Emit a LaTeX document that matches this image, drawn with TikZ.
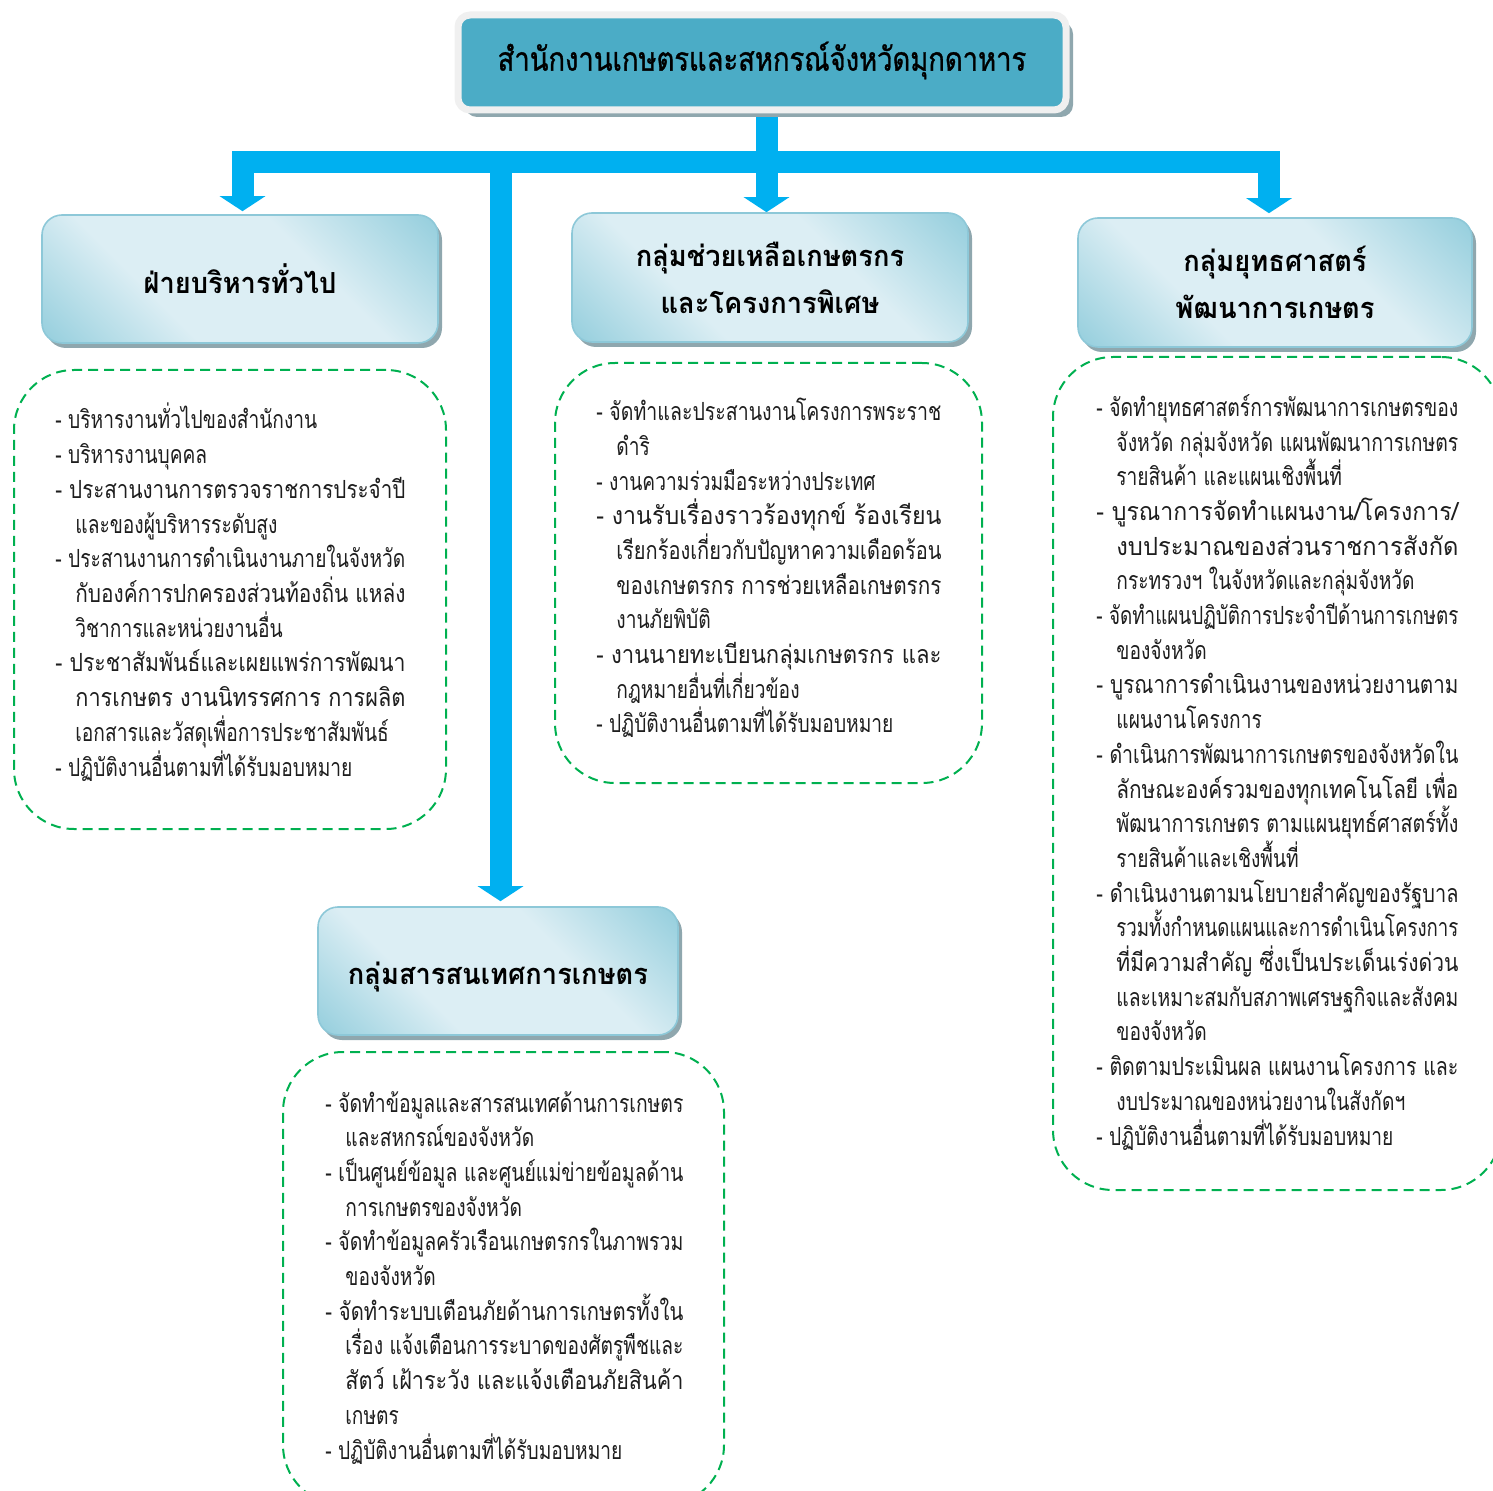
\documentclass[tikz,border=0pt]{standalone}
\usepackage{fontspec}
\usepackage{graphicx}
\newfontfamily\thaibody[Script=Thai,FakeStretch=0.767]{Loma}
\newfontfamily\thaihead[Script=Thai,FakeStretch=0.94]{Loma}
\newfontfamily\thaititle[Script=Thai,FakeStretch=0.83,FakeBold=1]{Loma}
\usetikzlibrary{arrows.meta,shadows,backgrounds}
\definecolor{connc}{HTML}{00B0F0}
\definecolor{topfill}{HTML}{4BACC6}
\definecolor{topframe}{HTML}{F0F0F0}
\definecolor{dashc}{HTML}{00B050}
\definecolor{boxdark}{HTML}{92CDDC}
\definecolor{boxlight}{HTML}{DCEEF4}
\definecolor{boxline}{HTML}{8DC8D8}
\definecolor{shadowc}{HTML}{8FA7AE}
\definecolor{bodytext}{HTML}{1E1E1E}
\pgfdeclareverticalshading{grpshade}{100bp}{color(0bp)=(boxdark); color(14bp)=(boxdark); color(36bp)=(boxlight); color(62bp)=(boxlight); color(86bp)=(boxdark); color(100bp)=(boxdark)}
\newcommand{\ind}{\hspace*{10pt}}
\newcommand{\fl}[2]{\resizebox{#1pt}{\height}{#2}}
\begin{document}
\begin{tikzpicture}[x=0.5pt,y=-0.5pt,
  conn/.style={draw=connc, line width=11pt, line join=miter, -{Triangle[width=22.5pt,length=7.5pt]}},
  topbox/.style={fill=topfill, draw=topframe, line width=3.5pt, rounded corners=6pt,
    drop shadow={shadow xshift=3.5pt, shadow yshift=-3.5pt, fill=shadowc, opacity=1},
    minimum width=304pt, minimum height=47.5pt, inner sep=0pt,
    font={\thaititle\fontsize{16.5}{20}\selectfont}},
  grpbox/.style={draw=boxline, line width=0.8pt, rounded corners=10pt,
    shading=grpshade, shading angle=-45,
    drop shadow={shadow xshift=2pt, shadow yshift=-2.5pt, fill=shadowc, opacity=1},
    align=center, inner sep=0pt,
    font={\thaihead\bfseries\fontsize{14.5}{23.5}\selectfont}},
  dashbox/.style={draw=dashc, dash pattern=on 5pt off 3pt, line width=1pt, rounded corners=30pt, inner sep=0pt},
  bodytxt/.style={anchor=base west, align=left, inner sep=0pt, text=bodytext,
    font={\thaibody\fontsize{12.5}{17.35}\selectfont\lineskiplimit=-30pt}}
]
\useasboundingbox (0,0) rectangle (1493,1491);

% top box
\node[topbox] (top) at (762,62.5) {\raisebox{1pt}[\height][\depth]{สำนักงานเกษตรและสหกรณ์จังหวัดมุกดาหาร}};

% group boxes
\node[grpbox, minimum width=198pt, minimum height=64pt] (b1) at (240,279) {ฝ่ายบริหารทั่วไป};
\node[grpbox, minimum width=198pt, minimum height=64.5pt] (b2) at (770,277.5) {กลุ่มช่วยเหลือเกษตรกร\\และโครงการพิเศษ};
\node[grpbox, minimum width=197pt, minimum height=64.5pt] (b3) at (1275,282.5) {กลุ่มยุทธศาสตร์\\พัฒนาการเกษตร};
\node[grpbox, minimum width=180pt, minimum height=64pt] (b4) at (498,971) {\raisebox{-3pt}[\height][\depth]{กลุ่มสารสนเทศการเกษตร}};

% dashed boxes
\node[dashbox, minimum width=216pt, minimum height=229.5pt] (d1) at (230,599.5) {};
\node[dashbox, minimum width=213.5pt, minimum height=210pt] (d2) at (768.5,573) {};
\node[dashbox, minimum width=224pt, minimum height=416.5pt] (d3) at (1277,773.5) {};
\node[dashbox, minimum width=220.5pt, minimum height=226.5pt] (d4) at (503.5,1278.5) {};

% texts (anchor = baseline of last line)
\node[bodytxt] (t1) at (55,776) {- บริหารงานทั่วไปของสำนักงาน\\
- บริหารงานบุคคล\\
\fl{175}{- ประสานงานการตรวจราชการประจำปี}\\
\ind และของผู้บริหารระดับสูง\\
\fl{175}{- ประสานงานการดำเนินงานภายในจังหวัด}\\
\ind\fl{165}{กับองค์การปกครองส่วนท้องถิ่น แหล่ง}\\
\ind วิชาการและหน่วยงานอื่น\\
\fl{175}{- ประชาสัมพันธ์และเผยแพร่การพัฒนา}\\
\ind\fl{165}{การเกษตร งานนิทรรศการ การผลิต}\\
\ind เอกสารและวัสดุเพื่อการประชาสัมพันธ์\\
- ปฏิบัติงานอื่นตามที่ได้รับมอบหมาย};

\node[bodytxt] (t2) at (596,733) {\fl{172.5}{- จัดทำและประสานงานโครงการพระราช}\\
\ind ดำริ\\
- งานความร่วมมือระหว่างประเทศ\\
\fl{172.5}{- งานรับเรื่องราวร้องทุกข์ ร้องเรียน}\\
\ind\fl{162.5}{เรียกร้องเกี่ยวกับปัญหาความเดือดร้อน}\\
\ind\fl{162.5}{ของเกษตรกร การช่วยเหลือเกษตรกร}\\
\ind งานภัยพิบัติ\\
\fl{172.5}{- งานนายทะเบียนกลุ่มเกษตรกร และ}\\
\ind กฎหมายอื่นที่เกี่ยวข้อง\\
- ปฏิบัติงานอื่นตามที่ได้รับมอบหมาย};

\node[bodytxt] (t3) at (1096,1145) {\fl{181}{- จัดทำยุทธศาสตร์การพัฒนาการเกษตรของ}\\
\ind\fl{171}{จังหวัด กลุ่มจังหวัด แผนพัฒนาการเกษตร}\\
\ind รายสินค้า และแผนเชิงพื้นที่\\
\fl{181}{- บูรณาการจัดทำแผนงาน/โครงการ/}\\
\ind\fl{171}{งบประมาณของส่วนราชการสังกัด}\\
\ind กระทรวงฯ ในจังหวัดและกลุ่มจังหวัด\\
\fl{181}{- จัดทำแผนปฏิบัติการประจำปีด้านการเกษตร}\\
\ind ของจังหวัด\\
\fl{181}{- บูรณาการดำเนินงานของหน่วยงานตาม}\\
\ind แผนงานโครงการ\\
\fl{181}{- ดำเนินการพัฒนาการเกษตรของจังหวัดใน}\\
\ind\fl{171}{ลักษณะองค์รวมของทุกเทคโนโลยี เพื่อ}\\
\ind\fl{171}{พัฒนาการเกษตร ตามแผนยุทธ์ศาสตร์ทั้ง}\\
\ind รายสินค้าและเชิงพื้นที่\\
\fl{181}{- ดำเนินงานตามนโยบายสำคัญของรัฐบาล}\\
\ind\fl{171}{รวมทั้งกำหนดแผนและการดำเนินโครงการ}\\
\ind\fl{171}{ที่มีความสำคัญ ซึ่งเป็นประเด็นเร่งด่วน}\\
\ind\fl{171}{และเหมาะสมกับสภาพเศรษฐกิจและสังคม}\\
\ind ของจังหวัด\\
\fl{181}{- ติดตามประเมินผล แผนงานโครงการ และ}\\
\ind งบประมาณของหน่วยงานในสังกัดฯ\\
- ปฏิบัติงานอื่นตามที่ได้รับมอบหมาย};

\node[bodytxt] (t4) at (325,1459) {\fl{179}{- จัดทำข้อมูลและสารสนเทศด้านการเกษตร}\\
\ind และสหกรณ์ของจังหวัด\\
\fl{179}{- เป็นศูนย์ข้อมูล และศูนย์แม่ข่ายข้อมูลด้าน}\\
\ind การเกษตรของจังหวัด\\
\fl{179}{- จัดทำข้อมูลครัวเรือนเกษตรกรในภาพรวม}\\
\ind ของจังหวัด\\
\fl{179}{- จัดทำระบบเตือนภัยด้านการเกษตรทั้งใน}\\
\ind\fl{169}{เรื่อง แจ้งเตือนการระบาดของศัตรูพืชและ}\\
\ind\fl{169}{สัตว์ เฝ้าระวัง และแจ้งเตือนภัยสินค้า}\\
\ind เกษตร\\
- ปฏิบัติงานอื่นตามที่ได้รับมอบหมาย};

% connectors
\coordinate (jc) at (766.5,162.5);
\coordinate (jl) at (500.5,162.5);
\begin{scope}[on background layer]
\draw[conn] (top.south -| jc) -- ([xshift=-1.75pt]b2.north);
\draw[conn] (jc) -| ([xshift=1.25pt,yshift=1.5pt]b1.north);
\draw[conn] (jc) -| ([xshift=-3pt,yshift=2pt]b3.north);
\draw[conn] (jl) -- ([xshift=1.25pt,yshift=2.5pt]b4.north);
\end{scope}
\end{tikzpicture}
\end{document}
